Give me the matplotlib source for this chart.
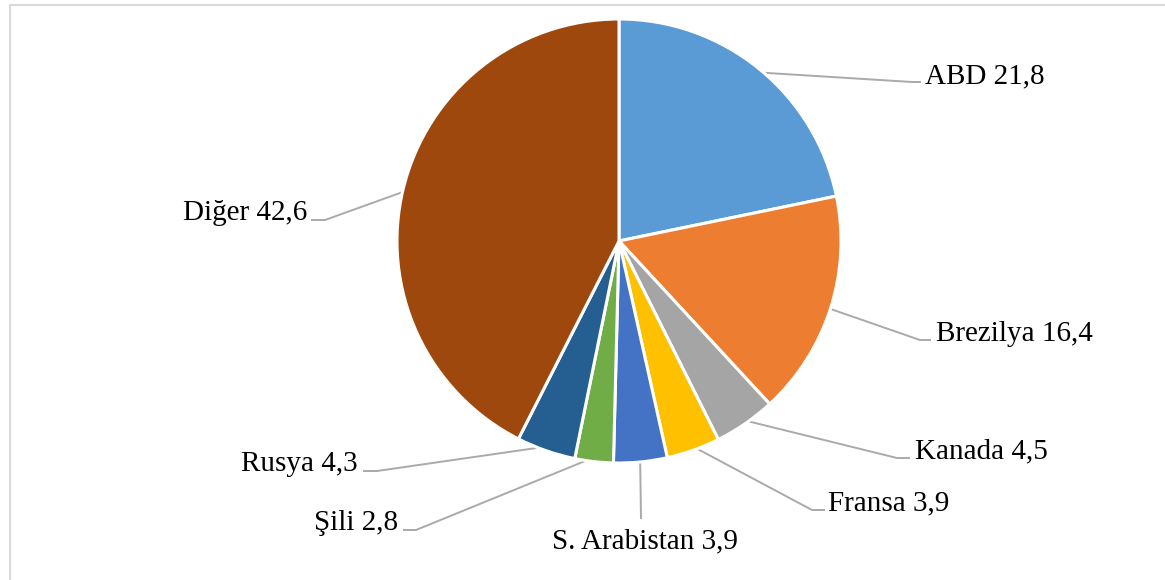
import numpy as np
import matplotlib.pyplot as plt

# data
countries = ["ABD", "Brezilya", "Kanada", "Fransa", "S. Arabistan", "Şili", "Rusya", "Diğer"]
shares = [21.8, 16.4, 4.5, 3.9, 3.9, 2.8, 4.3, 42.6]
colors = ["#5B9BD5", "#ED7D31", "#A5A5A5", "#FFC000", "#4472C4", "#70AD47", "#255E91", "#9E480E"]

# label layout in pixel space (x, y from top): elbow point, line end, text anchor (baseline)
elbows = [(912, 82), (920, 340), (897, 458), (812, 510), (641, 518), (416, 530), (377, 471), (325, 220)]
ends = [(920, 82), (930, 340), (909, 458), (824, 510), (641, 518), (404, 530), (364, 471), (312, 220)]
text_pos = [(925, 83), (936, 341), (915, 458), (828, 510), (645, 548), (398, 530), (358, 471), (307, 220)]
aligns = ["left", "left", "left", "left", "center", "right", "right", "right"]

W, H = 1165, 580
fig = plt.figure(figsize=(W / 100, H / 100), dpi=100)
ax = fig.add_axes([0, 0, 1, 1])

cx, cy, r = 619, H - 241, 222
wedges, _ = ax.pie(shares, colors=colors, startangle=90, counterclock=False,
                   center=(cx, cy), radius=r, frame=True,
                   wedgeprops=dict(edgecolor="white", linewidth=2.2))
ax.set_xlim(0, W)
ax.set_ylim(0, H)
ax.axis("off")

# frame around the chart area
ax.plot([10, 10, W + 5], [-5, H - 5, H - 5], color="#d9d9d9", lw=1.5, clip_on=False)

lc = "#aaaaaa"
for i, w in enumerate(wedges):
    mid = np.deg2rad((w.theta1 + w.theta2) / 2)
    sx, sy = cx + r * 0.98 * np.cos(mid), cy + r * 0.98 * np.sin(mid)
    ex, ey = elbows[i]
    fx, fy = ends[i]
    ax.plot([sx, ex, fx], [sy, H - ey, H - fy], color=lc, lw=1.4, zorder=0.5)
    tx, ty = text_pos[i]
    ax.text(tx, H - ty, f"{countries[i]} {str(shares[i]).replace('.', ',')}",
            ha=aligns[i], va="baseline", fontsize=21, family="Liberation Serif")

fig.savefig("out.png", dpi=100)
